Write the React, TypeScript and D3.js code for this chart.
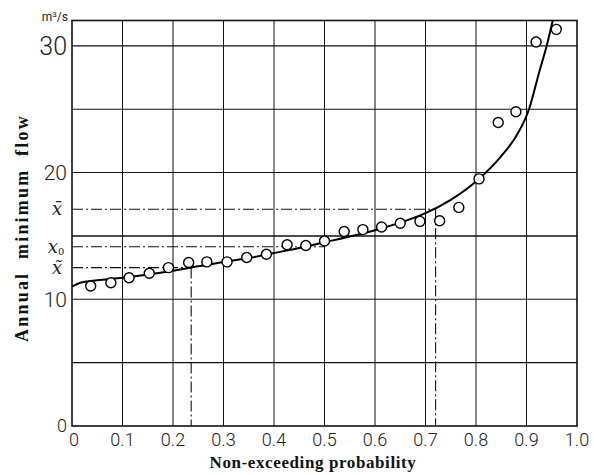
import React from "react";
import * as d3 from "d3";

const width = 594;
const height = 475;

// observed annual minimum flows (plotting position, m3/s)
const probs = [0.037, 0.077, 0.113, 0.153, 0.191, 0.231, 0.267, 0.307, 0.346, 0.385, 0.426, 0.463, 0.5, 0.539, 0.576, 0.613, 0.65, 0.689, 0.728, 0.766, 0.806, 0.844, 0.879, 0.919, 0.959];
const flows = [11.05, 11.3, 11.7, 12.05, 12.5, 12.9, 12.95, 12.95, 13.3, 13.55, 14.3, 14.25, 14.6, 15.35, 15.5, 15.7, 16.0, 16.15, 16.2, 17.25, 19.5, 23.95, 24.8, 30.3, 31.3];

// fitted distribution curve
const curveP = [0, 0.02, 0.05, 0.1, 0.15, 0.2, 0.25, 0.3, 0.35, 0.4, 0.45, 0.5, 0.55, 0.6, 0.65, 0.7, 0.75, 0.8, 0.85, 0.88, 0.905, 0.925, 0.94, 0.952];
const curveQ = [11.0, 11.35, 11.5, 11.7, 11.95, 12.25, 12.6, 12.95, 13.25, 13.65, 14.05, 14.5, 14.95, 15.45, 16.05, 16.8, 17.85, 19.3, 21.3, 22.9, 25.0, 27.9, 30.0, 32.0];

const xTicks = [0, 0.1, 0.2, 0.3, 0.4, 0.5, 0.6, 0.7, 0.8, 0.9, 1.0];
const xTickLabels = ["0", "0.1", "0.2", "0.3", "0.4", "0.5", "0.6", "0.7", "0.8", "0.9", "1.0"];
const yTicks = [0, 10, 20, 30];
const yGrid = [5, 10, 15, 20, 25, 30];

// characteristic values: flow, probability where line meets curve
const marks = [
  { key: "mean", q: 17.1, p: 0.72 },
  { key: "x0", q: 14.15, p: 0.5 },
  { key: "mode", q: 12.5, p: 0.236 },
];

const x = d3.scaleLinear().domain([0, 1]).range([72, 577]);
const y = d3.scaleLinear().domain([0, 32]).range([426, 20.5]);

const dashDot = "11,3,2,3";
const tickFont = "Roboto, 'DejaVu Sans', sans-serif";
const titleFont = "'Liberation Serif', 'DejaVu Serif', serif";
const symFont = "'DejaVu Serif', serif";

export default function App() {
  const line = d3
    .line<number>()
    .x((d) => x(d))
    .y((_, i) => y(curveQ[i]))
    .curve(d3.curveMonotoneX);

  return (
    <svg width={width} height={height} style={{ position: "absolute", left: 0, top: 0, background: "#fff" }}>
      {/* grid */}
      {xTicks.slice(1, -1).map((t) => (
        <line key={"vx" + t} x1={x(t)} x2={x(t)} y1={y(0)} y2={y(32)} stroke="#111" strokeWidth={1} />
      ))}
      {yGrid.map((t) => (
        <line key={"hy" + t} x1={x(0)} x2={x(1)} y1={y(t)} y2={y(t)} stroke="#111" strokeWidth={t === 15 ? 1.5 : 1.1} />
      ))}
      <rect x={x(0)} y={y(32)} width={x(1) - x(0)} height={y(0) - y(32)} fill="none" stroke="#111" strokeWidth={1.6} />

      {/* dash-dot lines for characteristic values */}
      {marks.map((m) => (
        <g key={m.key}>
          <line x1={x(0)} x2={x(m.p)} y1={y(m.q)} y2={y(m.q)} stroke="#111" strokeWidth={1.1} strokeDasharray={dashDot} />
          {m.key !== "x0" && (
            <line x1={x(m.p)} x2={x(m.p)} y1={y(m.q)} y2={y(0)} stroke="#111" strokeWidth={1.1} strokeDasharray={dashDot} />
          )}
        </g>
      ))}

      {/* fitted curve */}
      <path d={line(curveP) || ""} fill="none" stroke="#000" strokeWidth={2} />

      {/* observations */}
      {probs.map((p, i) => (
        <circle key={i} cx={x(p)} cy={y(flows[i])} r={5} fill="#fff" stroke="#000" strokeWidth={1.4} />
      ))}

      {/* y tick labels */}
      {yTicks.map((t) => (
        <text
          key={"yt" + t}
          x={67}
          y={y(t)}
          dy="0.36em"
          textAnchor="end"
          fontFamily={tickFont}
          fontWeight={300}
          fontSize={t === 30 ? 25 : t === 0 ? 18 : 21}
          fill="#222"
        >
          {t}
        </text>
      ))}
      <text x={68} y={21} textAnchor="end" fontFamily={tickFont} fontSize={12} fill="#222">
        m<tspan dy={-4} fontSize={8}>3</tspan>
        <tspan dy={4}>/s</tspan>
      </text>

      {/* characteristic value labels */}
      <text x={57} y={y(17.1) + 6} textAnchor="middle" fontFamily={symFont} fontStyle="italic" fontSize={18} fill="#222">
        x̄
      </text>
      <text x={56} y={y(14.15) + 6} textAnchor="middle" fontFamily={symFont} fontStyle="italic" fontSize={18} fill="#222">
        x<tspan fontSize={10} dy={2} fontStyle="normal">0</tspan>
      </text>
      <text x={57} y={y(12.5) + 6} textAnchor="middle" fontFamily={symFont} fontStyle="italic" fontSize={18} fill="#222">
        x̃
      </text>

      {/* x tick labels */}
      {xTicks.map((t, i) => (
        <text
          key={"xt" + t}
          x={x(t) + (i === 0 ? 2 : 0)}
          y={446}
          textAnchor="middle"
          fontFamily={tickFont}
          fontWeight={300}
          fontSize={18}
          fill="#222"
        >
          {xTickLabels[i]}
        </text>
      ))}

      {/* axis titles */}
      <text x={313} y={468} textAnchor="middle" fontFamily={titleFont} fontWeight="bold" fontSize={17} letterSpacing={0.6} fill="#111">
        Non-exceeding probability
      </text>
      <text
        transform={`translate(28, 228) rotate(-90)`}
        textAnchor="middle"
        fontFamily={titleFont}
        fontWeight="bold"
        fontSize={18}
        letterSpacing={2.2}
        wordSpacing={6}
        fill="#111"
      >
        Annual minimum flow
      </text>
    </svg>
  );
}
